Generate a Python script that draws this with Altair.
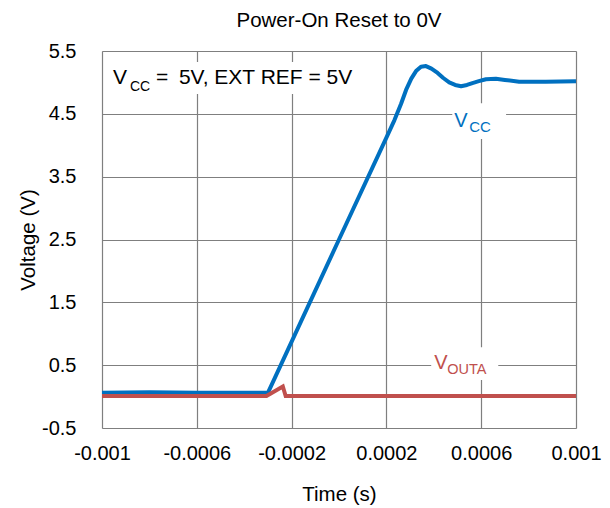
import altair as alt
import pandas as pd

# ---- data ----
vcc_t = [-0.001, -0.0008, -0.0006, -0.0004, -0.0003, 0.0, 0.0002, 0.000234, 0.000262,
         0.000283, 0.000305, 0.000325, 0.000346, 0.000367, 0.00039, 0.000416, 0.00044,
         0.000465, 0.00049, 0.000515, 0.00054, 0.000563, 0.00059, 0.00062,
         0.000662, 0.0007, 0.00076, 0.000872, 0.001]
vcc_v = [0.06, 0.07, 0.06, 0.06, 0.06, 2.5, 4.12, 4.4, 4.66,
         4.88, 5.06, 5.18, 5.25, 5.26, 5.22, 5.15, 5.07,
         5.0, 4.96, 4.94, 4.96, 4.99, 5.02, 5.05,
         5.06, 5.04, 5.01, 5.01, 5.02]

vout_t = [-0.001, -0.000306, -0.000237, -0.000225, 0.0, 0.001]
vout_v = [0.01, 0.01, 0.16, 0.01, 0.01, 0.01]

x_ticks = [-0.001, -0.0006, -0.0002, 0.0002, 0.0006, 0.001]
y_ticks = [-0.5, 0.5, 1.5, 2.5, 3.5, 4.5, 5.5]

title_text = ["Power-On Reset to 0V"]
title_x = [0.0]
title_y = [5.88]

# annotation pieces: text, x, y, size, dx, dy, color
ann_text = ["V", "CC", "=", "5V, EXT REF = 5V", "V", "CC", "V", "OUTA"]
ann_x = [-0.000954, -0.000954, -0.000954, -0.000954, 0.000486, 0.000486, 0.000402, 0.000402]
ann_y = [4.976, 4.976, 4.976, 4.976, 4.29, 4.29, 0.437, 0.437]
ann_size = [21, 14, 21, 21, 20, 15, 20, 14.5]
ann_dx = [0, 17, 43, 66, 0, 15, 0, 13]
ann_dy = [0, 7, 0, 0, 0, 5, 0, 5]
ann_color = ["black", "black", "black", "black", "#0070C0", "#0070C0", "#C0504D", "#C0504D"]

# white boxes behind annotations
box_x1 = [-0.000966, 0.000478, 0.000389]
box_x2 = [0.000095, 0.000705, 0.000672]
box_y1 = [5.325, 4.67, 0.786]
box_y2 = [4.817, 4.10, 0.262]

BLUE = "#0070C0"
RED = "#C0504D"
FONT = "Liberation Sans"

vcc = pd.DataFrame({"t": vcc_t, "v": vcc_v})
vout = pd.DataFrame({"t": vout_t, "v": vout_v})
ann = pd.DataFrame({"text": ann_text, "t": ann_x, "v": ann_y, "size": ann_size,
                    "dx": ann_dx, "dy": ann_dy, "color": ann_color})
boxes = pd.DataFrame({"x1": box_x1, "x2": box_x2, "y1": box_y1, "y2": box_y2})
ttl = pd.DataFrame({"text": title_text, "t": title_x, "v": title_y})

xscale = alt.Scale(domain=[-0.001, 0.001], nice=False, zero=False)
yscale = alt.Scale(domain=[-0.5, 5.5], nice=False, zero=False)

xaxis = alt.Axis(values=x_ticks, title="Time (s)", labelExpr="'' + datum.value",
                 ticks=False, domain=False, labelPadding=15, labelFontSize=20,
                 titleFontSize=20.5, titleFontWeight="normal", titleY=72,
                 titleBaseline="alphabetic", labelFont=FONT, titleFont=FONT,
                 labelColor="black", titleColor="black", gridColor="#7f7f7f",
                 gridWidth=1.2, gridOpacity=1, labelFlush=False)
yaxis = alt.Axis(values=y_ticks, title="Voltage (V)", labelExpr="'' + datum.value",
                 ticks=False, domain=False, labelPadding=26, labelFontSize=20,
                 titleFontSize=20.5, titleFontWeight="normal", titleX=-68,
                 titleBaseline="alphabetic", labelFont=FONT, titleFont=FONT,
                 labelColor="black", titleColor="black", gridColor="#7f7f7f",
                 gridWidth=1.2, gridOpacity=1, labelFlush=False)

rects = alt.Chart(boxes).mark_rect(color="white").encode(
    x=alt.X("x1:Q", scale=xscale, axis=xaxis),
    x2="x2:Q",
    y=alt.Y("y1:Q", scale=yscale, axis=yaxis),
    y2="y2:Q",
)

line_vcc = alt.Chart(vcc).mark_line(color=BLUE, strokeWidth=4, strokeJoin="round").encode(
    x=alt.X("t:Q", scale=xscale),
    y=alt.Y("v:Q", scale=yscale),
)
line_vout = alt.Chart(vout).mark_line(color=RED, strokeWidth=4).encode(
    x=alt.X("t:Q", scale=xscale),
    y=alt.Y("v:Q", scale=yscale),
)

title_mark = alt.Chart(ttl).mark_text(
    align="center", baseline="alphabetic", font=FONT, fontSize=20.5, color="black"
).encode(
    x=alt.X("t:Q", scale=xscale),
    y=alt.Y("v:Q", scale=yscale),
    text="text:N",
)

texts = []
for i in range(len(ann_text)):
    texts.append(
        alt.Chart(ann.iloc[[i]]).mark_text(
            align="left", baseline="alphabetic", font=FONT,
            fontSize=ann_size[i], dx=ann_dx[i], dy=ann_dy[i], color=ann_color[i]
        ).encode(
            x=alt.X("t:Q", scale=xscale),
            y=alt.Y("v:Q", scale=yscale),
            text="text:N",
        )
    )

chart = alt.layer(rects, line_vcc, line_vout, title_mark, *texts).properties(
    width=474,
    height=377,
    autosize=alt.AutoSizeParams(type="none"),
    padding={"left": 102, "top": 51, "right": 34, "bottom": 80},
).configure_view(stroke="black", strokeWidth=2.5).configure(background="white")

chart.save("out.html", embed_options={"renderer": "svg", "actions": False})
